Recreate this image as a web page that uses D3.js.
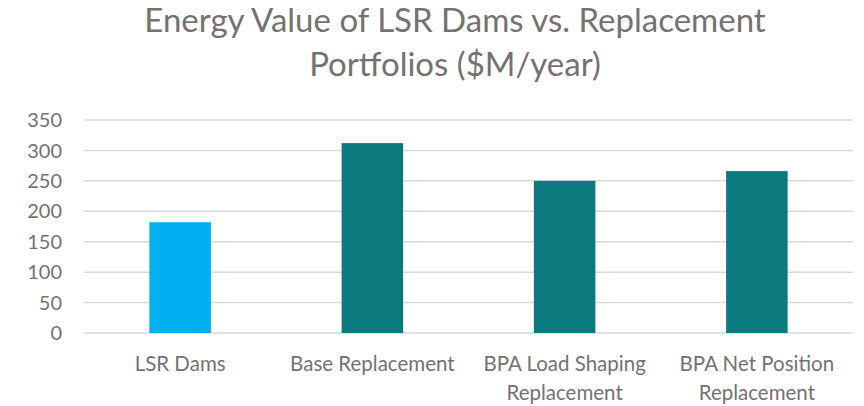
<!DOCTYPE html>
<meta charset="utf-8">
<style>
body { margin: 0; background: #fff; }
text { font-family: Lato, "Open Sans", sans-serif; fill: #767171; }
.grid line { stroke: #d9d9d9; stroke-width: 1.5px; }
</style>
<body>
<script src="https://cdn.jsdelivr.net/npm/d3@7"></script>
<script>

// chart data
var categories = ["LSR Dams", "Base Replacement", "BPA Load Shaping Replacement", "BPA Net Position Replacement"];
var labelLines = [["LSR Dams"], ["Base Replacement"], ["BPA Load Shaping", "Replacement"], ["BPA Net Position", "Replacement"]];
var values = [182, 312, 250, 266];
var barColors = ["#00b0f0", "#0a7a7e", "#0a7a7e", "#0a7a7e"];
var yTicks = [0, 50, 100, 150, 200, 250, 300, 350];
var titleLines = ["Energy Value of LSR Dams vs. Replacement", "Portfolios ($M/year)"];

var width = 864, height = 406;
var margin = {top: 120, right: 11, bottom: 73, left: 84};

var svg = d3.select("body").append("svg")
    .attr("width", width)
    .attr("height", height);

var x = d3.scaleBand()
    .domain(categories)
    .range([margin.left, width - margin.right])
    .paddingInner(0.68)
    .paddingOuter(0.34);

var y = d3.scaleLinear()
    .domain([0, 350])
    .range([height - margin.bottom, margin.top]);

// gridlines
svg.append("g").attr("class", "grid")
  .selectAll("line")
  .data(yTicks)
  .enter().append("line")
    .attr("x1", margin.left)
    .attr("x2", width - margin.right)
    .attr("y1", d => y(d))
    .attr("y2", d => y(d));

// y tick labels
svg.append("g")
  .selectAll("text")
  .data(yTicks)
  .enter().append("text")
    .attr("x", 62)
    .attr("y", d => y(d))
    .attr("dy", "0.36em")
    .attr("text-anchor", "end")
    .style("font-size", "20px")
    .text(d => d);

// bars
svg.append("g")
  .selectAll("rect")
  .data(values)
  .enter().append("rect")
    .attr("x", (d, i) => x(categories[i]))
    .attr("width", x.bandwidth())
    .attr("y", d => y(d))
    .attr("height", d => y(0) - y(d))
    .attr("fill", (d, i) => barColors[i]);

// category labels
var cat = svg.append("g")
  .selectAll("text")
  .data(categories)
  .enter().append("text")
    .attr("text-anchor", "middle")
    .attr("x", d => x(d) + x.bandwidth() / 2)
    .attr("y", 371)
    .style("font-size", "20.5px");

cat.selectAll("tspan")
  .data((d, i) => labelLines[i])
  .enter().append("tspan")
    .attr("x", function() { return this.parentNode.getAttribute("x"); })
    .attr("dy", (d, i) => i ? 29 : 0)
    .text(d => d);

// title
svg.append("text")
    .attr("text-anchor", "middle")
    .attr("x", 455)
    .attr("y", 32)
    .style("font-size", "33px")
  .selectAll("tspan")
  .data(titleLines)
  .enter().append("tspan")
    .attr("x", 455)
    .attr("dy", (d, i) => i ? 44 : 0)
    .text(d => d);

</script>
</body>
